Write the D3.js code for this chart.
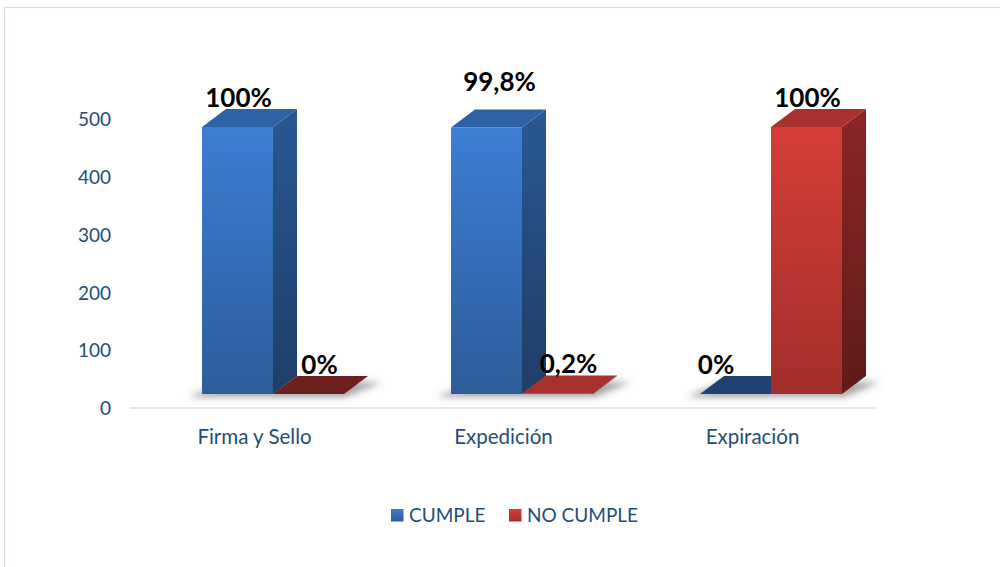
<!DOCTYPE html>
<html>
<head>
<meta charset="utf-8">
<script src="https://cdn.jsdelivr.net/npm/d3@7"></script>
<style>
  html, body { margin: 0; padding: 0; background: #fff; }
  svg { display: block; }
</style>
</head>
<body>
<svg id="chart" width="1000" height="567"></svg>
<script>
// Document checks per criterion (count of documents)
const categories = ["Firma y Sello", "Expedición", "Expiración"];
const seriesNames = ["CUMPLE", "NO CUMPLE"];
const cumple = [462, 461, 0];
const noCumple = [0, 1, 462];
const cumpleLabels = ["100%", "99,8%", "0%"];
const noCumpleLabels = ["0%", "0,2%", "100%"];
const yTicks = [0, 100, 200, 300, 400, 500];

const W = 1000, H = 567;
const svg = d3.select("#chart");
const defs = svg.append("defs");

const FONT = "Lato, 'Open Sans', sans-serif";
const AXIS_COLOR = "#1F4E79";

// frame
svg.append("rect")
  .attr("x", 4.5).attr("y", 7.5).attr("width", W).attr("height", H)
  .attr("fill", "#fff").attr("stroke", "#D6E0EE").attr("stroke-width", 1.2);

const x = d3.scaleBand().domain(categories).range([130, 877]).paddingInner(0).paddingOuter(0);
const y = d3.scaleLinear().domain([0, 500]).range([408, 119]);

// oblique 3D projection
const DX = 24, DY = -18, LIFT = 14;
const barW = 71;
const seriesOffset = [72, 143];

const palettes = [
  { front: ["#3C7ED4", "#2C5C99"], side: ["#2A5893", "#1E3E67"], top: "#2E62A5", flat: "#1F4272", key: ["#3C7ED4", "#2C5C99"] },
  { front: ["#D63D38", "#A22E2B"], side: ["#8C2623", "#5F1B19"], top: "#A8302D", flat: "#6C1F1D", key: ["#D63D38", "#A22E2B"] }
];

palettes.forEach((p, i) => {
  const gf = defs.append("linearGradient").attr("id", "front" + i).attr("x1", 0).attr("y1", 0).attr("x2", 0).attr("y2", 1);
  gf.append("stop").attr("offset", "0%").attr("stop-color", p.front[0]);
  gf.append("stop").attr("offset", "100%").attr("stop-color", p.front[1]);
  const gs = defs.append("linearGradient").attr("id", "side" + i).attr("x1", 0).attr("y1", 0).attr("x2", 0).attr("y2", 1);
  gs.append("stop").attr("offset", "0%").attr("stop-color", p.side[0]);
  gs.append("stop").attr("offset", "100%").attr("stop-color", p.side[1]);
  const gk = defs.append("linearGradient").attr("id", "key" + i).attr("x1", 0).attr("y1", 0).attr("x2", 0).attr("y2", 1);
  gk.append("stop").attr("offset", "0%").attr("stop-color", p.key[0]);
  gk.append("stop").attr("offset", "100%").attr("stop-color", p.key[1]);
});

defs.append("filter").attr("id", "soft").attr("x", "-20%").attr("y", "-50%").attr("width", "140%").attr("height", "200%")
  .append("feGaussianBlur").attr("stdDeviation", 3.5);

// x axis baseline
svg.append("line")
  .attr("x1", x.range()[0]).attr("x2", x.range()[1])
  .attr("y1", y(0)).attr("y2", y(0))
  .attr("stroke", "#D6E0F0").attr("stroke-width", 1.5);

// y axis tick labels
const yAxis = d3.axisLeft(y).tickValues(yTicks).tickSize(0).tickPadding(0);
const yg = svg.append("g").attr("transform", "translate(111,0)").call(yAxis);
yg.select(".domain").remove();
yg.selectAll("text")
  .attr("font-family", FONT).attr("font-size", 19).attr("fill", AXIS_COLOR).attr("dy", "0.35em");

// category labels
svg.append("g").selectAll("text").data(categories).join("text")
  .attr("x", d => x(d) + x.bandwidth() / 2)
  .attr("y", 444)
  .attr("text-anchor", "middle")
  .attr("font-family", FONT).attr("font-size", 20.5).attr("fill", AXIS_COLOR)
  .text(d => d);

const bars = [];
categories.forEach((c, ci) => {
  [cumple, noCumple].forEach((vals, si) => {
    bars.push({ cat: c, ci, si, v: vals[ci], label: (si === 0 ? cumpleLabels : noCumpleLabels)[ci] });
  });
});

// floor shadows under each category pair
const shadowG = svg.append("g").attr("filter", "url(#soft)");
categories.forEach(c => {
  const x0 = x(c) + seriesOffset[0];
  const x1 = x(c) + seriesOffset[1] + barW;
  const yb = y(0) - LIFT;
  shadowG.append("path")
    .attr("d", `M${x0 - 14},${yb + 3} L${x1 + 2},${yb + 3} L${x1 + DX + 14},${yb + DY + 6} L${x0 + DX},${yb + DY + 6} Z`)
    .attr("fill", "#5a5a5a").attr("opacity", 0.55);
});

const barG = svg.append("g");
bars.forEach(b => {
  const p = palettes[b.si];
  const xl = x(b.cat) + seriesOffset[b.si];
  const xr = xl + barW;
  const yb = y(0) - LIFT;
  const yt = y(b.v) - LIFT;
  const g = barG.append("g");
  if (b.v === 0) {
    g.append("path")
      .attr("d", `M${xl},${yb} L${xr},${yb} L${xr + DX},${yb + DY} L${xl + DX},${yb + DY} Z`)
      .attr("fill", p.flat);
    return;
  }
  // side face
  g.append("path")
    .attr("d", `M${xr},${yt} L${xr + DX},${yt + DY} L${xr + DX},${yb + DY} L${xr},${yb} Z`)
    .attr("fill", `url(#side${b.si})`);
  // front face
  g.append("rect")
    .attr("x", xl).attr("y", yt).attr("width", barW).attr("height", Math.max(0.6, yb - yt))
    .attr("fill", `url(#front${b.si})`);
  // top face
  g.append("path")
    .attr("d", `M${xl},${yt} L${xr},${yt} L${xr + DX},${yt + DY} L${xl + DX},${yt + DY} Z`)
    .attr("fill", p.top);
});

// value labels
const labelG = svg.append("g");
bars.forEach(b => {
  const xl = x(b.cat) + seriesOffset[b.si];
  const yt = y(b.v) - LIFT;
  const tall = b.v > 50;
  let lx;
  if (tall) lx = xl + barW / 2 + (b.label.length > 4 ? 13 : 1);
  else {
    // keep the label of a flat bar clear of a tall neighbour on its right
    const other = bars.find(o => o.ci === b.ci && o.si === b.si + 1);
    lx = (other && other.v > 50) ? xl + 16 : xl + barW / 2 + 11;
  }
  const ly = tall ? (b.label.length > 4 ? yt - 37 : yt - 20) : yt - 20;
  labelG.append("text")
    .attr("x", lx).attr("y", ly)
    .attr("text-anchor", "middle")
    .attr("font-family", FONT).attr("font-weight", "bold").attr("font-size", 26)
    .attr("fill", "#000")
    .text(b.label);
});

// legend
const legend = svg.append("g");
const legendItems = [
  { name: seriesNames[0], i: 0, x: 391 },
  { name: seriesNames[1], i: 1, x: 509 }
];
legendItems.forEach(d => {
  legend.append("rect")
    .attr("x", d.x).attr("y", 509).attr("width", 12.5).attr("height", 12.5)
    .attr("fill", `url(#key${d.i})`);
  legend.append("text")
    .attr("x", d.x + 18).attr("y", 522)
    .attr("font-family", FONT).attr("font-size", 19).attr("fill", AXIS_COLOR)
    .text(d.name);
});
</script>
</body>
</html>
